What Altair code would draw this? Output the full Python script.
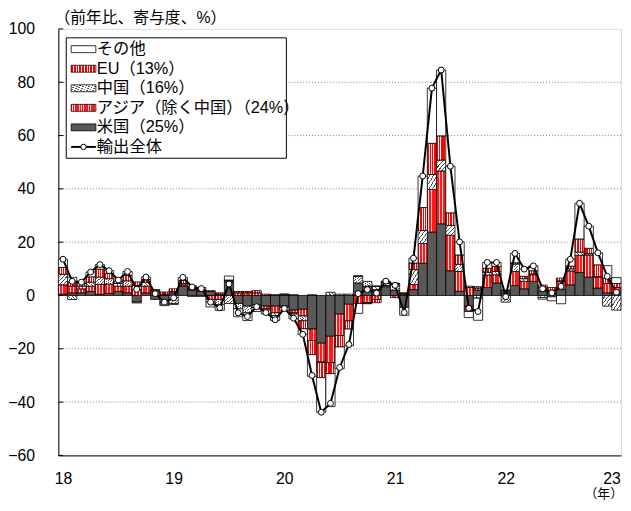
import altair as alt
import pandas as pd

# ---- data (monthly, Jan 2018 - Jan 2023), contributions in % points ----
us = [0.5, 1.0, 1.0, 1.5, 0.5, 0.8, 1.5, 1.0, -2.5, 1.0, -1.5, -2.8,
      1.0, 3.5, 2.0, 1.5, 1.5, 0.5, 5.0, -3.0, -4.0, -3.5, -4.0, -4.0,
      -4.0, -5.5, -5.2, -12.6, -17.9, -15.3, -7.0, -3.3, 4.7, 3.5, 2.2, 3.3,
      2.0, -4.5, 2.2, 12.1, 23.8, 26.9, 9.3, 1.6, -4.0, 2.0, 3.0, 4.7,
      0.9, 3.7, 2.5, 5.3, 1.6, 1.0, 2.2, 4.0, 8.6, 6.9, 2.8, 1.0, 1.0]
asia = [3.5, 2.5, 1.5, 2.0, 3.7, 3.5, 2.0, 2.5, 2.3, 2.5, 1.0, 0.5,
        0.5, 0.5, 0.5, 0.5, -1.5, -1.5, 0.5, 1.0, 1.0, 1.0, -1.0, -2.5,
        -0.5, -1.0, -2.5, -4.3, -7.0, -9.9, -8.0, -6.2, -3.0, -2.7, -1.5, 0.5,
        -0.8, 0.5, 1.9, 7.4, 16.0, 19.8, 13.3, 7.4, 3.0, 0.8, 4.7, 3.1,
        0.5, 5.3, 2.8, 2.5, 1.5, 1.0, 3.0, 5.2, 6.5, 8.3, 4.1, 3.5, 2.0]
china = [4.0, -1.5, 1.0, 1.5, 2.7, 2.0, 1.0, 2.0, 1.5, 1.5, 0.5, -0.5,
         -3.0, 0.5, 0.3, 0.2, -1.0, -2.0, -3.0, -2.0, -2.5, -1.0, -0.5, -1.0,
         0.3, 0.3, -1.8, 0.3, -0.3, 1.2, 0.5, 0.5, 2.5, 1.8, 1.2, 1.0,
         2.0, 0.3, 5.6, 4.9, 5.6, 4.1, 3.7, 2.7, 0.5, -1.0, 1.0, 1.2,
         -2.5, 2.8, 1.0, 0.3, -0.8, -0.5, 0.3, 0.8, 1.2, 0.5, 0.2, -4.0, -5.5]
eu = [2.5, 1.5, 1.0, 2.0, 3.0, 2.0, 0.8, 2.0, 1.3, 1.0, 0.5, 0.8,
      1.0, 1.2, 0.8, 0.8, 0.3, 0.5, 0.3, 0.5, 0.5, 0.8, 0.5, 0.3,
      0.3, -0.5, -3.0, -5.3, -5.6, -4.1, -4.3, -3.1, 0.2, -0.2, -1.2, 0.4,
      0.5, 0.2, 2.5, 8.6, 11.7, 9.1, 4.7, 3.5, -2.0, 0.5, 1.5, 1.9,
      0.5, 0.5, 0.9, 1.2, 0.8, 1.0, 1.0, 1.0, 4.9, 2.0, 4.4, 2.0, 1.5]
other = [3.1, 1.8, 0.5, 1.8, 1.7, 1.0, 0.5, 1.5, -0.3, 0.9, 0.2, -0.5,
         -0.4, 1.1, -0.4, -0.4, -1.8, -2.1, 1.5, -3.0, -2.9, -1.5, -1.4, -1.9,
         -1.0, -1.8, -2.1, -8.1, -13.0, -12.4, -8.2, -6.3, -3.7, -0.2, 0.2, 0.2,
         0.1, -2.9, 1.8, 11.8, 20.7, 24.7, 17.5, 4.9, -2.3, -8.3, 2.2, 1.5,
         0.1, 3.5, 2.7, 1.8, -0.6, -1.5, -3.1, 2.6, 13.4, 8.3, 4.5, 4.7, 2.2]
total = [13.6, 5.3, 5.0, 8.8, 11.6, 9.3, 5.8, 9.0, 2.3, 6.9, 0.7, -2.5,
         -0.9, 6.8, 3.2, 2.6, -2.5, -4.6, 4.3, -6.5, -7.9, -4.2, -6.4, -9.1,
         -4.9, -8.5, -14.6, -30.0, -43.8, -40.5, -27.0, -18.4, 0.7, 2.2, 0.9, 5.4,
         3.8, -6.4, 14.0, 44.8, 77.8, 84.6, 48.5, 20.1, -4.8, -6.0, 12.4, 12.4,
         -0.5, 15.8, 9.9, 11.1, 2.5, 1.0, 3.4, 13.6, 34.6, 26.0, 16.0, 7.2, 1.2]

series_names = ["米国", "アジア", "中国", "EU", "その他"]
legend_labels = ["その他", "EU（13%）", "中国（16%）", "アジア（除く中国）（24%）", "米国（25%）", "輸出全体"]
year_labels_start = 18
y_ticks = [-60, -40, -20, 0, 20, 40, 60, 80, 100]
grid_vals = [-40, -20, 20, 40, 60, 80]

rows = []
for s_idx, (name, vals) in enumerate(zip(series_names, [us, asia, china, eu, other])):
    for i, v in enumerate(vals):
        rows.append({"i": i, "series": name, "order": s_idx, "value": v})
bars_df = pd.DataFrame(rows)
line_df = pd.DataFrame({"i": list(range(len(total))), "total": total})
grid_df = pd.DataFrame({"g": grid_vals})
tick_df = pd.DataFrame({"t": y_ticks})
one = pd.DataFrame({"k": [0]})

N = len(total)
FONT = "Liberation Sans, Noto Sans CJK JP, sans-serif"


def stripes(c1, c2, n, frac, x2=1, y2=0):
    stops = []
    for k in range(n):
        a = k / n
        b = (k + frac) / n
        c = (k + 1) / n
        stops += [alt.GradientStop(offset=a, color=c1), alt.GradientStop(offset=b, color=c1),
                  alt.GradientStop(offset=b, color=c2), alt.GradientStop(offset=c, color=c2)]
    return alt.LinearGradient(gradient="linear", stops=stops, x1=0, y1=0, x2=x2, y2=y2)


DARK = "#595959"
fills = {
    "米国": DARK,
    "アジア": stripes("#ff1a1a", "#ffd0d0", 6, 0.7),
    "中国": stripes("#ffffff", "#555555", 5, 0.72, x2=1, y2=1),
    "EU": stripes("#ff0000", "#ffffff", 4, 0.6),
    "その他": "#ffffff",
}
legend_fills = {
    "米国": DARK,
    "アジア": stripes("#ff1a1a", "#ffd0d0", 14, 0.7),
    "中国": stripes("#ffffff", "#555555", 8, 0.72, x2=1, y2=1),
    "EU": stripes("#ff0000", "#ffffff", 9, 0.6),
    "その他": "#ffffff",
}

xscale = alt.Scale(domain=[0, N], nice=False, zero=False)
yscale = alt.Scale(domain=[-60, 100], nice=False)
xaxis = alt.Axis(values=[k * 12 + 0.5 for k in range(6)],
                 labelExpr=f"'' + ({year_labels_start} + floor(datum.value / 12))",
                 title=None, grid=False, ticks=False, labelPadding=15,
                 labelFontSize=16, labelFont=FONT, labelColor="black",
                 labelOffset={"condition": {"test": "datum.value > 60", "value": -5}, "value": 0},
                 domainColor="black", labelFlush=False)
yaxis = alt.Axis(values=y_ticks, title=None, grid=False, ticks=False, labelPadding=24,
                 labelFontSize=16, labelFont=FONT, labelColor="black", domainColor="black")

stacked = (alt.Chart(bars_df)
           .transform_filter("datum.value != 0")
           .transform_stack(stack="value", as_=["y0", "y1"], groupby=["i"],
                            sort=[alt.SortField(field="order", order="ascending")])
           .transform_calculate(xa="datum.i", xb="datum.i + 1"))

layers = []
grid = alt.Chart(grid_df).mark_rule(color="#7f7f7f", strokeDash=[1, 2], strokeWidth=1).encode(
    y=alt.Y("g:Q", scale=yscale, axis=yaxis))
layers.append(grid)
ticks = alt.Chart(tick_df).mark_rule(color="black", strokeWidth=1).encode(
    y=alt.Y("t:Q", scale=yscale, axis=yaxis), x=alt.value(0), x2=alt.value(5))
layers.append(ticks)

for name in series_names:
    stroke = "#000000"
    layers.append(
        stacked.transform_filter(alt.datum.series == name)
        .mark_bar(fill=fills[name], stroke=stroke, strokeWidth=0.8)
        .encode(x=alt.X("xa:Q", scale=xscale, axis=xaxis), x2="xb:Q",
                y=alt.Y("y0:Q", scale=yscale, axis=yaxis), y2="y1:Q")
    )

line_base = alt.Chart(line_df).transform_calculate(xm="datum.i + 0.5")
layers.append(line_base.mark_line(color="black", strokeWidth=2).encode(
    x=alt.X("xm:Q", scale=xscale, axis=xaxis), y=alt.Y("total:Q", scale=yscale, axis=yaxis)))
layers.append(line_base.mark_point(filled=True, fill="white", stroke="black", strokeWidth=1,
                                   size=36, opacity=1).encode(
    x=alt.X("xm:Q", scale=xscale, axis=xaxis), y=alt.Y("total:Q", scale=yscale, axis=yaxis)))

# ---- legend box ----
layers.append(alt.Chart(one).mark_rect(fill="white", stroke="black", strokeWidth=1).encode(
    x=alt.value(8), x2=alt.value(231), y=alt.value(9), y2=alt.value(131)))
legend_y = [20.5, 40.3, 60.1, 79.9, 99.7, 119.5]
legend_series = ["その他", "EU", "中国", "アジア", "米国"]
for k, name in enumerate(legend_series):
    yc = legend_y[k]
    layers.append(alt.Chart(one).mark_rect(fill=legend_fills[name], stroke="black", strokeWidth=0.8).encode(
        x=alt.value(13), x2=alt.value(38), y=alt.value(yc - 3.5), y2=alt.value(yc + 3.5)))
yc = legend_y[5]
layers.append(alt.Chart(one).mark_rule(color="black", strokeWidth=2).encode(
    x=alt.value(13), x2=alt.value(38), y=alt.value(yc)))
layers.append(alt.Chart(one).mark_point(filled=True, fill="white", stroke="black", strokeWidth=1,
                                       size=30, opacity=1).encode(
    x=alt.value(25.5), y=alt.value(yc)))
for k, lab in enumerate(legend_labels):
    layers.append(alt.Chart(one).mark_text(align="left", baseline="middle", fontSize=16.5,
                                           font=FONT, color="black").encode(
        x=alt.value(39), y=alt.value(legend_y[k]), text=alt.value(lab)))

# ---- titles ----
layers.append(alt.Chart(one).mark_text(align="left", baseline="middle", fontSize=16,
                                       font=FONT, color="black").encode(
    x=alt.value(-4), y=alt.value(-11), text=alt.value("（前年比、寄与度、%）")))
layers.append(alt.Chart(one).mark_text(align="right", baseline="middle", fontSize=13,
                                       font=FONT, color="black").encode(
    x=alt.value(572), y=alt.value(471), text=alt.value("（年）")))

chart = alt.layer(*layers).properties(
    width=570, height=432,
    padding={"left": 51, "top": 18, "right": 2, "bottom": 45},
    autosize=alt.AutoSizeParams(type="none"),
).configure_view(stroke="black", strokeWidth=1).configure(background="white")

chart.save("out.html", embed_options={"renderer": "svg", "actions": False})
